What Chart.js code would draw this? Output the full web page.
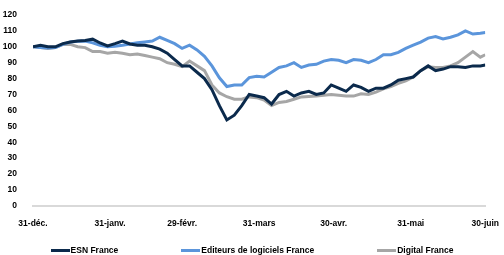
<!DOCTYPE html>
<html>
<head>
<meta charset="utf-8">
<script src="https://cdn.jsdelivr.net/npm/chart.js@4/dist/chart.umd.min.js"></script>
<style>
  html, body { margin: 0; padding: 0; background: #fff; }
  #wrap { position: relative; width: 504px; height: 255px; }
  #legende {
    position: absolute; left: 0; top: 244px; width: 504px; height: 12px;
    display: flex; justify-content: center; gap: 63px;
    font: bold 8.5px "Liberation Sans", Arial, sans-serif; color: #000;
  }
  #legende div { display: flex; align-items: center; white-space: nowrap; }
  #legende span.trait { display: inline-block; width: 19px; height: 3px; margin-right: 1px; }
</style>
</head>
<body>
<div id="wrap">
  <canvas id="graphique" width="504" height="255"></canvas>
  <div id="legende"></div>
</div>
<script>
// jours depuis le 31 déc.
const jours = [0, 3, 6, 9, 12, 15, 18, 21, 24, 27, 30, 33, 36, 39, 42, 45, 48, 51, 54, 57,
  60, 63, 66, 69, 72, 75, 78, 81, 84, 87, 90, 93, 96, 99, 102, 105, 108, 111, 114, 117,
  120, 123, 126, 129, 132, 135, 138, 141, 144, 147, 150, 153, 156, 159, 162, 165, 168, 171, 174, 177,
  180, 182];

const esnFrance = [100, 101, 100, 100, 102, 103, 103.6, 104, 104.8, 102.4, 100.6, 102, 103.6, 101.8, 101, 101, 100, 98.5, 96, 92,
  88, 88, 84, 80, 73, 63, 54, 57, 63, 70, 69, 68, 64, 70, 72, 69, 71, 72, 70, 71,
  76, 74, 72, 76, 74.5, 72, 74, 74, 76, 79, 80, 81, 85, 88, 85, 86, 87.5, 87.5, 87, 88,
  88, 88.5];

const editeursFrance = [100, 99.6, 99.3, 99.5, 101.5, 103, 103.5, 103.6, 102.5, 101, 100, 100.4, 101, 101.8, 102.5, 103, 103.6, 106, 104, 102,
  99, 101, 98, 94, 88, 80.5, 75, 76, 76, 80.6, 81.5, 81, 84, 87, 88, 90, 87, 88.5, 89, 91,
  92, 91.5, 90, 92, 91.5, 90, 92, 95, 95, 96.5, 99, 101, 103, 105.5, 106.5, 105, 106, 107.5, 110, 108,
  108.5, 109];

const digitalFrance = [100, 99.5, 99, 99.5, 101.5, 101.5, 100, 99.5, 97, 97, 96, 96.6, 96, 95, 95.5, 94.5, 93.5, 92.5, 90, 89,
  87.5, 91, 88, 85, 76, 71, 68.6, 67, 67, 68.5, 68, 66.5, 63, 65, 65.6, 67, 68.5, 68.8, 69, 69.5,
  70, 69.5, 69, 69, 70.5, 70, 71.5, 73.5, 75, 77, 78.5, 81, 85, 87.5, 87, 87, 88, 90, 93.5, 97,
  93.5, 95];

const joursTicks = [0, 31, 60, 91, 121, 152, 182];
const etiquettesTicks = ['31-déc.', '31-janv.', '29-févr.', '31-mars', '30-avr.', '31-mai', '30-juin'];

const series = [
  { nom: 'ESN France', valeurs: esnFrance, couleur: '#0b2a4c' },
  { nom: 'Editeurs de logiciels France', valeurs: editeursFrance, couleur: '#5b95db' },
  { nom: 'Digital France', valeurs: digitalFrance, couleur: '#a6a6a6' }
];

const police = { family: '"Liberation Sans", Arial, sans-serif', size: 8.5, weight: 'bold' };

new Chart(document.getElementById('graphique'), {
  type: 'line',
  data: {
    datasets: series.map(s => ({
      label: s.nom,
      data: s.valeurs.map((v, i) => ({ x: jours[i], y: v })),
      borderColor: s.couleur,
      backgroundColor: s.couleur,
      borderWidth: 3,
      pointRadius: 0,
      tension: 0
    }))
  },
  options: {
    responsive: false,
    animation: false,
    layout: { padding: { left: 0, right: 0, top: 15, bottom: 21 } },
    plugins: { legend: { display: false }, tooltip: { enabled: false } },
    scales: {
      x: {
        type: 'linear',
        min: 0,
        max: 182,
        afterBuildTicks: axe => { axe.ticks = joursTicks.map(v => ({ value: v })); },
        ticks: {
          autoSkip: false,
          maxRotation: 0,
          padding: 5,
          color: '#000',
          font: police,
          callback: v => etiquettesTicks[joursTicks.indexOf(v)]
        },
        grid: { display: false },
        border: { display: true, color: '#d9d9d9', width: 2 }
      },
      y: {
        min: 0,
        max: 120,
        afterFit: axe => { axe.width = 33; },
        ticks: { stepSize: 10, padding: 8, color: '#000', font: police },
        grid: { display: false },
        border: { display: false }
      }
    }
  }
});

// légende
const legende = document.getElementById('legende');
legende.innerHTML = series.map(s =>
  `<div><span class="trait" style="background:${s.couleur}"></span>${s.nom}</div>`
).join('');
</script>
</body>
</html>
